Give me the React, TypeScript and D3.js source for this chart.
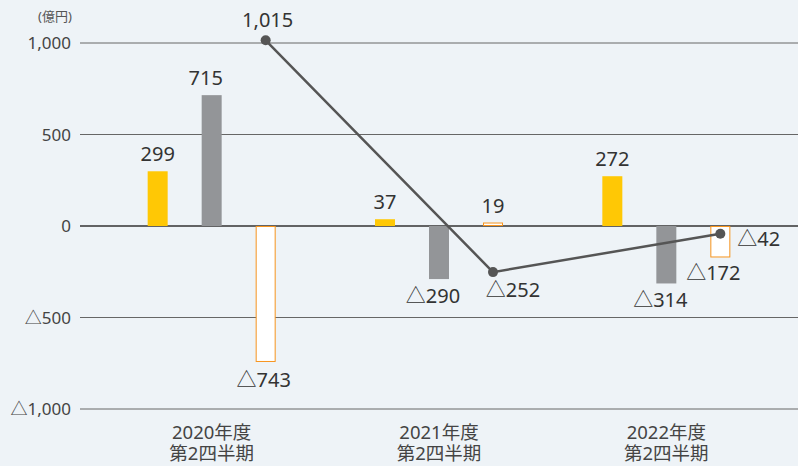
import React from "react";
import * as d3 from "d3";

const categories = ["2020年度\n第2四半期", "2021年度\n第2四半期", "2022年度\n第2四半期"];
const yellowValues = [299, 37, 272];
const grayValues = [715, -290, -314];
const outlineValues = [-743, 19, -172];
const lineValues = [1015, -252, -42];
const yTicks = [1000, 500, 0, -500, -1000];

const W = 798;
const H = 466;
const FONT = "'Noto Sans', 'Noto Sans CJK JP', sans-serif";

const fmt = (v: number) => {
  const s = d3.format(",")(Math.abs(v));
  return v < 0 ? "△" + s : s;
};

export default function App() {
  const y = d3.scaleLinear().domain([-1000, 1000]).range([409, 43]);
  const x = d3.scaleBand<string>().domain(categories).range([98, 780]);
  const bw = 20;
  const off = 54;
  const cx = (c: string) => (x(c) as number) + x.bandwidth() / 2;

  const lineGen = d3
    .line<number>()
    .x((_, i) => cx(categories[i]) + off)
    .y((d) => y(d));

  const outlineLabelPos = [
    { dx: -2, dy: 25, anchor: "middle" },
    { dx: 0, dy: -10, anchor: "middle" },
    { dx: -7, dy: 23, anchor: "middle" },
  ];
  const lineLabelPos = [
    { dx: 2, dy: -13, anchor: "middle" },
    { dx: 20, dy: 25, anchor: "middle" },
    { dx: 17, dy: 12, anchor: "start" },
  ];

  return (
    <svg width={W} height={H} style={{ display: "block", position: "absolute", left: 0, top: 0, background: "#eef3f7" }}>
      <rect x={0} y={0} width={W} height={H} fill="#eef3f7" />
      <text x={55} y={21} fontSize={13} fill="#555" fontFamily={FONT} textAnchor="middle">
        (億円)
      </text>
      {yTicks.map((t) => (
        <g key={t}>
          <line x1={80} x2={W} y1={y(t)} y2={y(t)} stroke={t === 0 ? "#333" : "#666"} strokeWidth={t === 0 ? 1.5 : 1} />
          <text x={71} y={y(t) + 6} fontSize={17} fill="#444" textAnchor="end" fontFamily={FONT}>
            {fmt(t)}
          </text>
        </g>
      ))}
      {categories.map((c, i) => {
        const c0 = cx(c);
        const yv = yellowValues[i];
        const gv = grayValues[i];
        const ov = outlineValues[i];
        const op = outlineLabelPos[i];
        const lines = c.split("\n");
        return (
          <g key={c}>
            <rect x={c0 - off - bw / 2} y={Math.min(y(yv), y(0))} width={bw} height={Math.abs(y(yv) - y(0))} fill="#ffc805" />
            <text x={c0 - off} y={yv >= 0 ? y(yv) - 10 : y(yv) + 24} fontSize={20} fill="#333" textAnchor="middle" fontFamily={FONT}>
              {fmt(yv)}
            </text>
            <rect x={c0 - bw / 2} y={Math.min(y(gv), y(0))} width={bw} height={Math.abs(y(gv) - y(0))} fill="#939598" />
            <text x={c0 - 6} y={gv >= 0 ? y(gv) - 10 : y(gv) + 24} fontSize={20} fill="#333" textAnchor="middle" fontFamily={FONT}>
              {fmt(gv)}
            </text>
            <rect
              x={c0 + off - bw / 2 + 0.5}
              y={Math.min(y(ov), y(0)) + 0.5}
              width={bw - 1}
              height={Math.abs(y(ov) - y(0)) - 1}
              fill="#ffffff"
              stroke="#f7941d"
              strokeWidth={1}
            />
            <text x={c0 + off + op.dx} y={y(ov) + op.dy} fontSize={20} fill="#333" textAnchor={op.anchor as any} fontFamily={FONT}>
              {fmt(ov)}
            </text>
            <text x={c0} y={439} fontSize={18.5} fill="#444" textAnchor="middle" fontFamily={FONT}>
              {lines.map((l, j) => (
                <tspan key={j} x={c0} dy={j === 0 ? 0 : 21}>
                  {l}
                </tspan>
              ))}
            </text>
          </g>
        );
      })}
      <path d={lineGen(lineValues) || ""} fill="none" stroke="#555" strokeWidth={2.5} />
      {lineValues.map((v, i) => {
        const px = cx(categories[i]) + off;
        const lp = lineLabelPos[i];
        return (
          <g key={i}>
            <circle cx={px} cy={y(v)} r={5} fill="#555" />
            <text x={px + lp.dx} y={y(v) + lp.dy} fontSize={20} fill="#333" textAnchor={lp.anchor as any} fontFamily={FONT}>
              {fmt(v)}
            </text>
          </g>
        );
      })}
    </svg>
  );
}
